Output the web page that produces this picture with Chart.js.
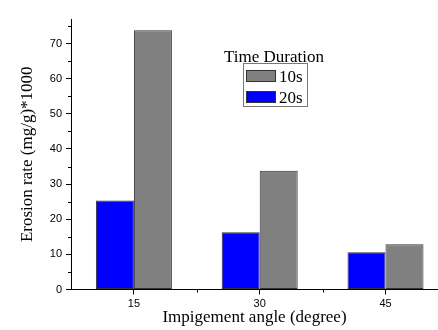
<!DOCTYPE html>
<html><head><meta charset="utf-8">
<script src="https://cdn.jsdelivr.net/npm/chart.js@4/dist/chart.umd.min.js"></script>
<style>html,body{margin:0;padding:0;background:#fff}canvas{display:block}</style>
</head><body>
<canvas id="c" width="438" height="330"></canvas>
<script>
const categories = [15, 30, 45];
const minorXTicks = [22.5, 37.5];
const series10s = [73.8, 33.8, 12.9];
const series20s = [25.3, 16.3, 10.6];
const yTickValues = [0, 10, 20, 30, 40, 50, 60, 70];
const yMinorTicks = [5, 15, 25, 35, 45, 55, 65, 75];
const seriesLabels = ['20s', '10s'];
const legendTitle = 'Time Duration';
const xTitle = 'Impigement angle (degree)';
const yTitle = 'Erosion rate (mg/g)*1000';

const SERIF = "'Liberation Serif', 'Times New Roman', serif";
const SANS = "'Liberation Sans', Arial, sans-serif";

const minorTicksPlugin = {
  id: 'minorTicks',
  afterDraw(chart) {
    const ctx = chart.ctx;
    const xs = chart.scales.x, ys = chart.scales.y;
    ctx.save();
    ctx.strokeStyle = '#000';
    ctx.lineWidth = 1;
    ctx.beginPath();
    minorXTicks.forEach(v => {
      const px = Math.round(xs.getPixelForValue(v)) + 0.5;
      ctx.moveTo(px, ys.bottom);
      ctx.lineTo(px, ys.bottom + 3);
    });
    yMinorTicks.forEach(v => {
      if (v > ys.max) return;
      const py = Math.round(ys.getPixelForValue(v)) + 0.5;
      ctx.moveTo(xs.left - 3, py);
      ctx.lineTo(xs.left, py);
    });
    ctx.stroke();
    ctx.restore();
  }
};

const legendPlugin = {
  id: 'boxLegend',
  afterDraw(chart) {
    const ctx = chart.ctx;
    ctx.save();
    ctx.fillStyle = '#000';
    ctx.font = '17px ' + SERIF;
    ctx.textAlign = 'center';
    ctx.textBaseline = 'alphabetic';
    ctx.fillText(legendTitle, 274, 61.5);
    ctx.strokeStyle = '#777';
    ctx.lineWidth = 1;
    ctx.strokeRect(243.5, 63.5, 64, 43);
    const items = chart.data.datasets.slice().reverse();
    items.forEach((ds, i) => {
      const y0 = 69.5 + i * 21.5;
      ctx.fillStyle = ds.backgroundColor;
      ctx.fillRect(246, Math.round(y0), 30, 12);
      ctx.strokeStyle = '#333';
      ctx.strokeRect(246.5, Math.round(y0) + 0.5, 29, 11);
      ctx.fillStyle = '#000';
      ctx.textAlign = 'left';
      ctx.fillText(ds.label, 279, Math.round(y0) + 11.5);
    });
    ctx.restore();
  }
};

const toPoints = vals => vals.map((v, i) => ({ x: categories[i], y: v }));

new Chart(document.getElementById('c'), {
  type: 'bar',
  data: {
    datasets: [
      { label: seriesLabels[0], data: toPoints(series20s), backgroundColor: '#0000FF',
        borderColor: '#333', borderWidth: 1, borderSkipped: false },
      { label: seriesLabels[1], data: toPoints(series10s), backgroundColor: '#808080',
        borderColor: '#333', borderWidth: 1, borderSkipped: false }
    ]
  },
  options: {
    responsive: false,
    animation: false,
    events: [],
    datasets: { bar: { categoryPercentage: 0.604, barPercentage: 1 } },
    layout: { padding: { top: 19, right: 0, bottom: 0, left: 0 } },
    plugins: { legend: { display: false }, tooltip: { enabled: false }, title: { display: false } },
    scales: {
      x: {
        type: 'linear',
        offset: false,
        min: 7.5,
        max: 51.26,
        afterBuildTicks: s => { s.ticks = categories.map(v => ({ value: v })); },
        afterFit: s => { s.height = 40.5; },
        ticks: { font: { family: SANS, size: 11 }, color: '#000', padding: 3,
                 autoSkip: false, maxRotation: 0, callback: v => String(v) },
        grid: { offset: false, drawOnChartArea: false, drawTicks: true, tickLength: 5, tickColor: '#000' },
        border: { display: true, color: '#000', width: 1 },
        title: { display: true, text: xTitle, color: '#000',
                 font: { family: SERIF, size: 17 }, padding: { top: 0, bottom: 2 } }
      },
      y: {
        min: 0,
        max: 77,
        afterBuildTicks: s => { s.ticks = yTickValues.map(v => ({ value: v })); },
        afterFit: s => { s.width = 71; },
        ticks: { font: { family: SANS, size: 11 }, color: '#000', padding: 4,
                 callback: v => String(v) },
        grid: { drawOnChartArea: false, drawTicks: true, tickLength: 5, tickColor: '#000' },
        border: { display: true, color: '#000', width: 1 },
        title: { display: true, text: yTitle, color: '#000',
                 font: { family: SERIF, size: 17 }, padding: { top: 17, bottom: 0 } }
      }
    }
  },
  plugins: [minorTicksPlugin, legendPlugin]
});
</script>
</body></html>
